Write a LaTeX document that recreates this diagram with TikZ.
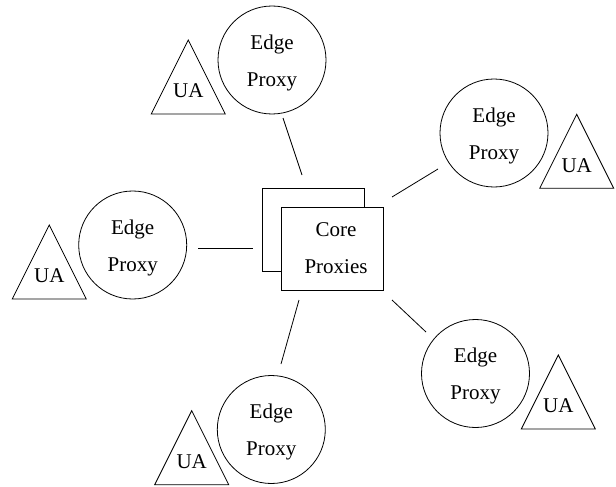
\documentclass[tikz,border=0pt]{standalone}
\usepackage{fontspec}
\setmainfont{Liberation Serif}
\begin{document}
\begin{tikzpicture}[x=1pt,y=-1pt,line width=0.8pt,
  lbl/.style={font=\fontsize{21}{37}\selectfont,align=center,inner sep=0pt},
  proxy/.style={circle,draw,minimum size=108pt,inner sep=0pt},
  corebox/.style={draw,fill=white,minimum width=102pt,minimum height=83pt,inner sep=0pt},
  ua/.pic={
    \draw (0,0) -- (-37,74) -- (37,74) -- cycle;
    \node[lbl] (-txt) at (0,51) {UA};
  }]
\useasboundingbox (0,0) rectangle (616,487);

% core proxy stack
\node[corebox] (coreback) at (313.3,230.2) {};
\node[corebox] (core) at (332,248.7) {};
\node[lbl] (coretxt) at (336,248) {Core\\Proxies};

% edge proxies, each with its two-line caption
\foreach \n/\x/\y in {1/272/60, 2/494/133, 3/132.7/245, 4/475.5/373.5, 5/271.3/429.5}{
  \node[proxy] (e\n) at (\x,\y) {};
  \node[lbl] (e\n txt) at (\x,\y+2.5) {Edge\\Proxy};
}

% user agents
\pic (ua1) at (188.3,40) {ua};
\pic (ua2) at (576.7,114.3) {ua};
\pic (ua3) at (49.3,225) {ua};
\pic (ua4) at (558.3,355) {ua};
\pic (ua5) at (191.7,410.7) {ua};

% links between edge and core
\coordinate (l1a) at (283,118);  \coordinate (l1b) at (302,175);
\coordinate (l2a) at (438,169);  \coordinate (l2b) at (392,197);
\coordinate (l3a) at (198,248);  \coordinate (l3b) at (253,248);
\coordinate (l4a) at (426,332);  \coordinate (l4b) at (392,300);
\coordinate (l5a) at (281,364);  \coordinate (l5b) at (299,300);
\draw (l1a) -- (l1b);
\draw (l2a) -- (l2b);
\draw (l3a) -- (l3b);
\draw (l4a) -- (l4b);
\draw (l5a) -- (l5b);
\end{tikzpicture}
\end{document}
